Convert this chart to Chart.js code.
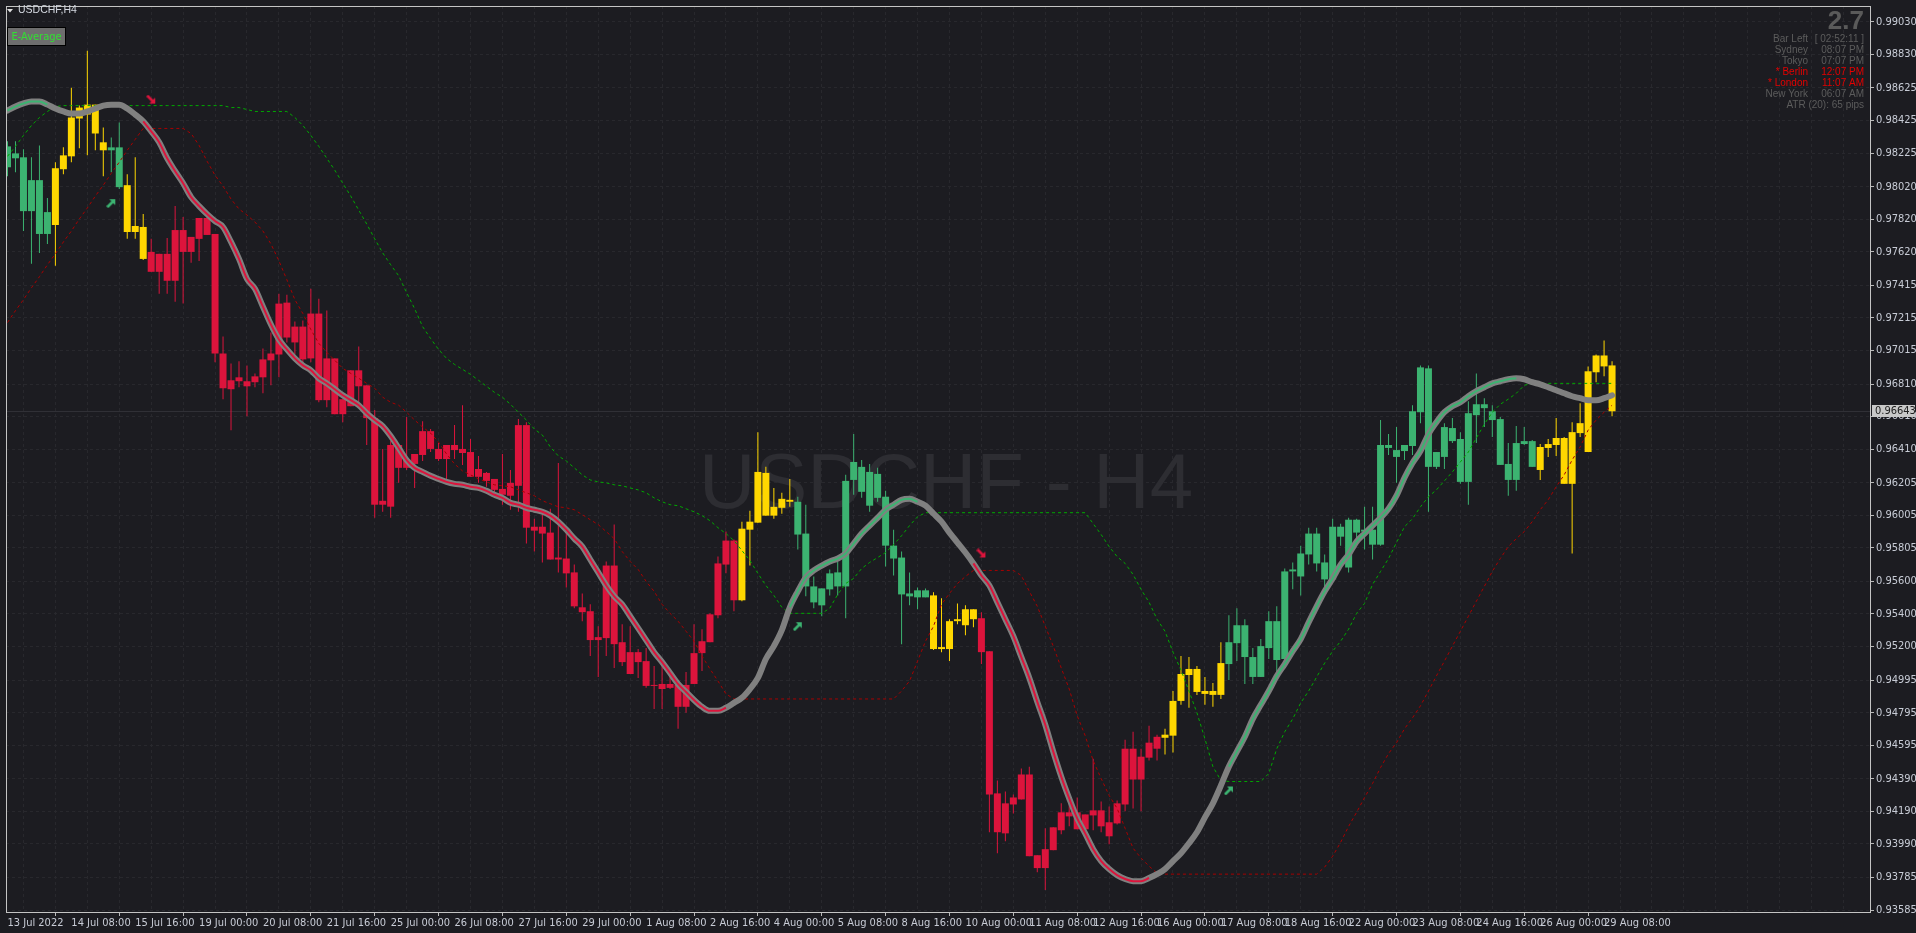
<!DOCTYPE html>
<html><head><meta charset="utf-8">
<script src="https://cdn.jsdelivr.net/npm/chart.js@4.4.0/dist/chart.umd.min.js"></script>
<style>
html,body{margin:0;padding:0;background:#1c1c21;overflow:hidden}
#wrap{position:relative;width:1916px;height:933px}
</style></head><body>
<div id="wrap"><canvas id="c"></canvas></div>
<script>
// ---------- DATA ----------
const symbolTitle = "USDCHF,H4";
const watermarkText = "USDCHF - H4";
const timeLabels = ["13 Jul 2022","14 Jul 08:00","15 Jul 16:00","19 Jul 00:00","20 Jul 08:00","21 Jul 16:00","25 Jul 00:00","26 Jul 08:00","27 Jul 16:00","29 Jul 00:00","1 Aug 08:00","2 Aug 16:00","4 Aug 00:00","5 Aug 08:00","8 Aug 16:00","10 Aug 00:00","11 Aug 08:00","12 Aug 16:00","16 Aug 00:00","17 Aug 08:00","18 Aug 16:00","22 Aug 00:00","23 Aug 08:00","24 Aug 16:00","26 Aug 00:00","29 Aug 08:00"];
const priceTicks = [0.99030,0.98830,0.98625,0.98425,0.98225,0.98020,0.97820,0.97620,0.97415,0.97215,0.97015,0.96810,0.96610,0.96410,0.96205,0.96005,0.95805,0.95600,0.95400,0.95200,0.94995,0.94795,0.94595,0.94390,0.94190,0.93990,0.93785,0.93585];

const opens = [0.98139,0.98224,0.98200,0.97870,0.98060,0.97730,0.97785,0.98127,0.98206,0.98438,
0.98523,0.98523,0.98292,0.98243,0.98261,0.98029,0.97742,0.97773,0.97620,0.97498,
0.97608,0.97443,0.97754,0.97620,0.97700,0.97828,0.97730,0.96997,0.96778,0.96827,
0.96827,0.96821,0.96851,0.96955,0.96991,0.97309,0.97065,0.97162,0.96967,0.97242,
0.96711,0.96967,0.96625,0.96674,0.96894,0.96802,0.96601,0.96070,0.96058,0.96436,
0.96296,0.96320,0.96375,0.96521,0.96412,0.96350,0.96436,0.96412,0.96393,0.96241,
0.96265,0.96228,0.96167,0.96125,0.96186,0.96558,0.95935,0.95893,0.95899,0.95734,
0.95740,0.95655,0.95441,0.95417,0.95240,0.95252,0.95697,0.95227,0.95166,0.95105,
0.95111,0.94959,0.94971,0.94947,0.94965,0.94831,0.94971,0.95160,0.95227,0.95392,
0.95703,0.95850,0.95484,0.95917,0.95960,0.96265,0.96003,0.96051,0.96100,0.96088,
0.95893,0.95569,0.95453,0.95551,0.95655,0.95569,0.96222,0.96302,0.96064,0.96259,
0.96119,0.95819,0.95746,0.95526,0.95502,0.95545,0.95514,0.95185,0.95185,0.95356,
0.95331,0.95429,0.95374,0.95172,0.94300,0.94055,0.94232,0.94263,0.94416,0.93921,
0.93842,0.93952,0.94074,0.94184,0.94184,0.94080,0.94165,0.94196,0.94123,0.94116,
0.94232,0.94574,0.94385,0.94519,0.94574,0.94641,0.94654,0.94867,0.95026,0.95063,
0.94928,0.94904,0.94904,0.95093,0.95221,0.95331,0.95136,0.95014,0.95191,0.95356,
0.95124,0.95661,0.95630,0.95765,0.95893,0.95716,0.95612,0.95935,0.95978,0.95899,
0.95917,0.95917,0.95825,0.96436,0.96405,0.96399,0.96430,0.96637,0.96906,0.96302,
0.96363,0.96540,0.96473,0.96210,0.96619,0.96686,0.96643,0.96595,0.96320,0.96222,
0.96442,0.96460,0.96283,0.96418,0.96436,0.96479,0.96198,0.96509,0.96393,0.96882,
0.96985,0.96924];

const highs = [0.98298,0.98298,0.98249,0.98200,0.98273,0.97950,0.98170,0.98261,0.98627,0.98517,
0.98853,0.98523,0.98383,0.98322,0.98414,0.98096,0.98200,0.97852,0.97700,0.97608,
0.97706,0.97901,0.97834,0.97712,0.97828,0.97840,0.97730,0.97101,0.96936,0.96949,
0.96924,0.96875,0.97028,0.97126,0.97364,0.97358,0.97193,0.97199,0.97394,0.97333,
0.97260,0.96967,0.96717,0.96894,0.97040,0.96802,0.96650,0.96412,0.96460,0.96436,
0.96607,0.96381,0.96582,0.96534,0.96448,0.96436,0.96558,0.96680,0.96473,0.96369,
0.96271,0.96228,0.96381,0.96283,0.96595,0.96576,0.95984,0.96027,0.96045,0.96326,
0.95905,0.95703,0.95526,0.95459,0.95325,0.95722,0.95948,0.95337,0.95325,0.95185,
0.95191,0.95081,0.95130,0.95044,0.94965,0.95044,0.95337,0.95307,0.95404,0.95752,
0.95905,0.95856,0.95966,0.96033,0.96515,0.96302,0.96173,0.96143,0.96228,0.96119,
0.96070,0.95630,0.95557,0.95673,0.95722,0.96253,0.96503,0.96344,0.96320,0.96296,
0.96155,0.95917,0.95783,0.95655,0.95563,0.95557,0.95533,0.95496,0.95368,0.95465,
0.95453,0.95429,0.95411,0.95172,0.94379,0.94312,0.94293,0.94452,0.94464,0.93921,
0.94086,0.94092,0.94239,0.94263,0.94275,0.94171,0.94513,0.94251,0.94220,0.94257,
0.94629,0.94678,0.94574,0.94715,0.94660,0.94696,0.94928,0.95142,0.95136,0.95081,
0.95014,0.94977,0.95227,0.95392,0.95435,0.95368,0.95191,0.95246,0.95417,0.95447,
0.95679,0.95716,0.95819,0.95929,0.95929,0.95765,0.95984,0.95954,0.95990,0.95984,
0.96057,0.96057,0.96589,0.96503,0.96546,0.96436,0.96680,0.96924,0.96924,0.96393,
0.96570,0.96601,0.96515,0.96705,0.96875,0.96723,0.96680,0.96607,0.96448,0.96552,
0.96546,0.96466,0.96442,0.96473,0.96601,0.96485,0.96576,0.96692,0.96918,0.96991,
0.97077,0.96949];

const lows = [0.98084,0.98108,0.97748,0.97547,0.97614,0.97669,0.97535,0.98096,0.98170,0.98255,
0.98212,0.98243,0.98084,0.98108,0.98005,0.97700,0.97700,0.97571,0.97498,0.97364,
0.97364,0.97315,0.97303,0.97553,0.97565,0.97724,0.96943,0.96717,0.96527,0.96790,
0.96613,0.96790,0.96753,0.96802,0.96851,0.97065,0.96991,0.96943,0.96943,0.96698,
0.96668,0.96625,0.96576,0.96674,0.96698,0.96436,0.95990,0.96027,0.95990,0.96204,
0.96283,0.96173,0.96338,0.96393,0.96338,0.96228,0.96350,0.96314,0.96241,0.96204,
0.96180,0.96131,0.96070,0.96039,0.96027,0.95832,0.95783,0.95716,0.95734,0.95655,
0.95563,0.95435,0.95356,0.95142,0.95014,0.95142,0.95069,0.95081,0.95032,0.95008,
0.94947,0.94818,0.94818,0.94940,0.94696,0.94794,0.94971,0.95050,0.95227,0.95374,
0.95649,0.95417,0.95478,0.95697,0.95960,0.96003,0.95984,0.96015,0.96057,0.95795,
0.95508,0.95435,0.95386,0.95514,0.95514,0.95374,0.96131,0.96112,0.96027,0.96088,
0.95691,0.95636,0.95215,0.95453,0.95429,0.95502,0.95179,0.95166,0.95111,0.95337,
0.95270,0.95319,0.95093,0.94062,0.93933,0.94007,0.94177,0.94263,0.93915,0.93817,
0.93707,0.93952,0.94049,0.94098,0.94080,0.94080,0.94074,0.94062,0.93988,0.94110,
0.94190,0.94208,0.94190,0.94501,0.94501,0.94538,0.94550,0.94843,0.94825,0.94904,
0.94843,0.94831,0.94879,0.94995,0.95111,0.94971,0.94971,0.95014,0.95124,0.95032,
0.95093,0.95551,0.95514,0.95703,0.95661,0.95551,0.95600,0.95819,0.95655,0.95819,
0.95795,0.95734,0.95819,0.96375,0.96204,0.96344,0.96375,0.96570,0.96027,0.96289,
0.96289,0.96448,0.96198,0.96070,0.96448,0.96546,0.96485,0.96314,0.96125,0.96155,
0.96436,0.96302,0.96222,0.96363,0.96369,0.96198,0.95771,0.96485,0.96393,0.96821,
0.96857,0.96613];

const closes = [0.98267,0.98194,0.97870,0.98060,0.97730,0.97864,0.98133,0.98212,0.98444,0.98505,
0.98462,0.98346,0.98243,0.98261,0.98017,0.97742,0.97779,0.97577,0.97498,0.97608,
0.97443,0.97754,0.97620,0.97712,0.97828,0.97724,0.96997,0.96784,0.96833,0.96851,
0.96796,0.96857,0.96961,0.96997,0.97303,0.97095,0.97162,0.96961,0.97242,0.96711,
0.96967,0.96625,0.96717,0.96894,0.96796,0.96601,0.96070,0.96094,0.96436,0.96296,
0.96350,0.96381,0.96521,0.96412,0.96350,0.96436,0.96405,0.96387,0.96241,0.96289,
0.96216,0.96161,0.96131,0.96204,0.96558,0.95929,0.95911,0.95935,0.95734,0.95746,
0.95649,0.95447,0.95411,0.95240,0.95258,0.95697,0.95215,0.95105,0.95032,0.95166,
0.94959,0.94965,0.94940,0.94971,0.94831,0.94965,0.95160,0.95233,0.95398,0.95710,
0.95850,0.95484,0.95923,0.95966,0.96271,0.96003,0.96057,0.96106,0.96088,0.95887,
0.95569,0.95471,0.95557,0.95649,0.95569,0.96216,0.96332,0.96149,0.96271,0.96112,
0.95819,0.95740,0.95520,0.95508,0.95545,0.95502,0.95185,0.95197,0.95356,0.95368,
0.95429,0.95368,0.95166,0.94293,0.94062,0.94239,0.94275,0.94416,0.93915,0.93842,
0.93958,0.94092,0.94184,0.94159,0.94080,0.94171,0.94196,0.94098,0.94037,0.94239,
0.94574,0.94385,0.94525,0.94611,0.94647,0.94660,0.94867,0.95032,0.95063,0.94922,
0.94910,0.94928,0.95099,0.95227,0.95331,0.95136,0.95014,0.95203,0.95356,0.95118,
0.95661,0.95673,0.95771,0.95893,0.95710,0.95612,0.95935,0.95874,0.95685,0.95978,
0.95905,0.95825,0.96436,0.96418,0.96363,0.96436,0.96643,0.96912,0.96302,0.96393,
0.96546,0.96460,0.96210,0.96631,0.96686,0.96662,0.96589,0.96314,0.96222,0.96448,
0.96460,0.96302,0.96424,0.96442,0.96479,0.96198,0.96515,0.96570,0.96888,0.96985,
0.96918,0.96643];

// candle trend colour per bar: G = up, Y = neutral, R = down
const candleTrend = ("GGGGGGYYYY YYYGGYYYRR RRRRRRRRRR RRRRRRRRRR RRRRRRRRRR RRRRRRRRRR RRRRRRRRRR " +
  "RRRRRRRRRR RRRRRRRRRR RRYYYYYYYG GGGGGGGGGG GGGGGGYYYY YYRRRRRRRR RRRRRRRRRR RRRRRYYYYY " +
  "YYYGGGGGGG GGGGGGGGGG GGGGGGGGGG GGGGGGGGGG GGYYYYYYYY YY").replace(/ /g, "").split("");

// smoothed average line
const maValues = [0.98487,0.98511,0.98530,0.98542,0.98542,0.98523,0.98499,0.98481,0.98469,0.98469,
0.98481,0.98499,0.98517,0.98523,0.98523,0.98499,0.98462,0.98420,0.98359,0.98292,
0.98194,0.98115,0.98041,0.97956,0.97901,0.97852,0.97809,0.97773,0.97681,0.97577,
0.97455,0.97394,0.97284,0.97175,0.97083,0.97022,0.96967,0.96924,0.96894,0.96845,
0.96814,0.96778,0.96741,0.96711,0.96680,0.96631,0.96589,0.96552,0.96491,0.96418,
0.96344,0.96296,0.96271,0.96247,0.96228,0.96210,0.96198,0.96192,0.96180,0.96173,
0.96155,0.96131,0.96112,0.96082,0.96070,0.96051,0.96039,0.96027,0.96003,0.95966,
0.95917,0.95862,0.95813,0.95734,0.95655,0.95575,0.95508,0.95459,0.95386,0.95313,
0.95240,0.95166,0.95105,0.95038,0.94971,0.94922,0.94873,0.94831,0.94806,0.94806,
0.94825,0.94855,0.94886,0.94940,0.95008,0.95124,0.95203,0.95301,0.95441,0.95539,
0.95624,0.95667,0.95697,0.95722,0.95740,0.95771,0.95832,0.95893,0.95942,0.95990,
0.96039,0.96070,0.96100,0.96106,0.96088,0.96064,0.96015,0.95966,0.95899,0.95838,
0.95777,0.95710,0.95636,0.95575,0.95472,0.95368,0.95264,0.95136,0.95008,0.94861,
0.94721,0.94556,0.94403,0.94269,0.94147,0.94055,0.93958,0.93885,0.93836,0.93799,
0.93775,0.93762,0.93762,0.93781,0.93805,0.93836,0.93885,0.93933,0.93994,0.94062,
0.94153,0.94239,0.94348,0.94464,0.94556,0.94647,0.94757,0.94843,0.94928,0.95020,
0.95093,0.95172,0.95246,0.95349,0.95447,0.95539,0.95618,0.95703,0.95765,0.95844,
0.95893,0.95942,0.95990,0.96045,0.96125,0.96235,0.96326,0.96399,0.96503,0.96576,
0.96637,0.96674,0.96698,0.96735,0.96766,0.96790,0.96814,0.96827,0.96839,0.96845,
0.96839,0.96821,0.96808,0.96790,0.96772,0.96753,0.96735,0.96723,0.96711,0.96711,
0.96723,0.96741];
// average slope state: g = rising, r = falling, n = flat/undecided
const maState = ("ggggggnnnn nnnnnnnrrr rrrrrrrrrr rrrrrrrrrr rrrrrrrrrr rrrrrrrrrr rrrrrrrrrr " +
  "rrrrrrrrrr rrrrrrrrrr rnnnnnnngg gggggggggg gggggnnnnn nrrrrrrrrr rrrrrrrrrr rrrrnnnnnn " +
  "nnnggggggg gggggggggg gggggggggg gggggggggg nnnnnnnnnn nn").replace(/ /g, "").split("");

// upper (green dotted) and lower (dark red dotted) trailing bands
const upperBand = [0.98206,0.98267,0.98334,0.98395,0.98444,0.98481,0.98511,0.98517,0.98517,0.98517,
0.98517,0.98517,0.98517,0.98517,0.98517,0.98517,0.98517,0.98517,0.98517,0.98517,
0.98517,0.98517,0.98517,0.98517,0.98517,0.98517,0.98517,0.98517,0.98505,0.98505,
0.98493,0.98481,0.98481,0.98481,0.98481,0.98481,0.98444,0.98395,0.98334,0.98267,
0.98194,0.98121,0.98041,0.97962,0.97876,0.97791,0.97700,0.97614,0.97541,0.97474,
0.97370,0.97272,0.97162,0.97089,0.97022,0.96967,0.96930,0.96900,0.96869,0.96833,
0.96796,0.96759,0.96729,0.96686,0.96637,0.96589,0.96534,0.96497,0.96424,0.96369,
0.96338,0.96296,0.96253,0.96222,0.96210,0.96204,0.96192,0.96186,0.96173,0.96161,
0.96143,0.96112,0.96088,0.96070,0.96064,0.96045,0.96027,0.96003,0.95972,0.95929,
0.95893,0.95850,0.95789,0.95728,0.95649,0.95575,0.95514,0.95441,0.95404,0.95404,
0.95404,0.95404,0.95404,0.95435,0.95520,0.95587,0.95618,0.95679,0.95716,0.95746,
0.95777,0.95825,0.95880,0.95942,0.95996,0.96021,0.96021,0.96021,0.96021,0.96021,
0.96021,0.96021,0.96021,0.96021,0.96021,0.96021,0.96021,0.96021,0.96021,0.96021,
0.96021,0.96021,0.96021,0.96021,0.96021,0.96021,0.95954,0.95887,0.95813,0.95752,
0.95710,0.95642,0.95551,0.95472,0.95368,0.95294,0.95166,0.95056,0.94928,0.94794,
0.94635,0.94464,0.94379,0.94373,0.94373,0.94373,0.94373,0.94373,0.94422,0.94574,
0.94678,0.94757,0.94855,0.94928,0.95014,0.95099,0.95172,0.95233,0.95307,0.95404,
0.95465,0.95581,0.95661,0.95740,0.95838,0.95935,0.95984,0.96057,0.96119,0.96161,
0.96216,0.96271,0.96332,0.96393,0.96479,0.96564,0.96637,0.96686,0.96717,0.96753,
0.96802,0.96814,0.96814,0.96814,0.96814,0.96814,0.96814,0.96814,0.96814,0.96814,
0.96814,0.96814];
const lowerBand = [0.97187,0.97260,0.97327,0.97400,0.97468,0.97541,0.97608,0.97681,0.97748,0.97822,
0.97889,0.97962,0.98029,0.98102,0.98170,0.98243,0.98310,0.98377,0.98377,0.98377,
0.98377,0.98377,0.98377,0.98346,0.98273,0.98176,0.98090,0.98023,0.97944,0.97883,
0.97846,0.97803,0.97748,0.97669,0.97565,0.97449,0.97327,0.97242,0.97144,0.97059,
0.97004,0.96955,0.96906,0.96875,0.96845,0.96814,0.96784,0.96729,0.96698,0.96680,
0.96637,0.96589,0.96546,0.96509,0.96454,0.96381,0.96320,0.96277,0.96253,0.96228,
0.96210,0.96192,0.96186,0.96180,0.96161,0.96143,0.96125,0.96094,0.96076,0.96057,
0.96051,0.96039,0.96009,0.95978,0.95948,0.95905,0.95862,0.95783,0.95722,0.95673,
0.95600,0.95539,0.95459,0.95404,0.95356,0.95294,0.95233,0.95142,0.95063,0.94989,
0.94910,0.94879,0.94879,0.94879,0.94879,0.94879,0.94879,0.94879,0.94879,0.94879,
0.94879,0.94879,0.94879,0.94879,0.94879,0.94879,0.94879,0.94879,0.94879,0.94879,
0.94879,0.94879,0.94928,0.94989,0.95111,0.95233,0.95325,0.95459,0.95526,0.95587,
0.95630,0.95667,0.95667,0.95667,0.95667,0.95667,0.95667,0.95636,0.95539,0.95447,
0.95325,0.95203,0.95069,0.94940,0.94776,0.94654,0.94501,0.94391,0.94287,0.94208,
0.94086,0.93964,0.93903,0.93854,0.93811,0.93805,0.93805,0.93805,0.93805,0.93805,
0.93805,0.93805,0.93805,0.93805,0.93805,0.93805,0.93805,0.93805,0.93805,0.93805,
0.93805,0.93805,0.93805,0.93805,0.93805,0.93848,0.93915,0.94000,0.94098,0.94184,
0.94275,0.94361,0.94458,0.94544,0.94611,0.94696,0.94763,0.94837,0.94928,0.95020,
0.95111,0.95203,0.95294,0.95386,0.95478,0.95569,0.95661,0.95740,0.95813,0.95862,
0.95905,0.95966,0.96039,0.96100,0.96180,0.96253,0.96344,0.96424,0.96527,0.96589,
0.96637,0.96680];

// signal arrows (bar index, price)
const upArrowBars = [13, 99, 153];
const upArrowPrices = [0.97919, 0.95325, 0.94318];
const downArrowBars = [18, 122];
const downArrowPrices = [0.98554, 0.95771];

// info panel
const bigValue = "2.7";
const panelRows = [
  ["Bar Left", "[ 02:52:11 ]", false],
  ["Sydney", "08:07 PM", false],
  ["Tokyo", "07:07 PM", false],
  ["* Berlin", "12:07 PM", true],
  ["* London", "11:07 AM", true],
  ["New York", "06:07 AM", false]
];
const atrText = "ATR (20): 65 pips";

// ---------- CHART ----------
const BG = '#1c1c21';
const AXIS_FONT = "'Liberation Sans Narrow','Arial Narrow','DejaVu Sans Condensed',sans-serif";
const UI_FONT = "'Liberation Sans',Arial,sans-serif";
const colorMap = {G: '#3cb371', Y: '#ffd700', R: '#dc143c'};

const idx = opens.map((_, i) => i);
const barColors = candleTrend.map(c => colorMap[c]);
const lastClose = closes[closes.length - 1];

function arrowImg(color, up) {
  const c = document.createElement('canvas');
  c.width = 10; c.height = 10;
  const g = c.getContext('2d');
  g.fillStyle = color; g.strokeStyle = color; g.lineWidth = 2.6; g.lineCap = 'butt';
  if (up) {
    g.beginPath(); g.moveTo(1, 9); g.lineTo(6.5, 3.5); g.stroke();
    g.beginPath(); g.moveTo(3, 1); g.lineTo(9, 1); g.lineTo(9, 7); g.closePath(); g.fill();
  } else {
    g.beginPath(); g.moveTo(1, 1); g.lineTo(6.5, 6.5); g.stroke();
    g.beginPath(); g.moveTo(9, 3); g.lineTo(9, 9); g.lineTo(3, 9); g.closePath(); g.fill();
  }
  return c;
}

const gridX = [];
for (let v = 0; v <= 232; v += 4) gridX.push(v);
const isLabelTick = v => v % 8 === 0 && v / 8 < timeLabels.length;

const deco = {
  id: 'deco',
  beforeDraw(chart) {
    const {ctx, width, height} = chart;
    ctx.save(); ctx.fillStyle = BG; ctx.fillRect(0, 0, width, height); ctx.restore();
  },
  beforeDatasetsDraw(chart) {
    const {ctx, chartArea: a, scales} = chart;
    ctx.save();
    ctx.beginPath(); ctx.rect(a.left, a.top, a.right - a.left, a.bottom - a.top); ctx.clip();
    ctx.font = "78px " + UI_FONT;
    ctx.fillStyle = '#2d2d32';
    ctx.textAlign = 'center'; ctx.textBaseline = 'alphabetic';
    ctx.fillText(watermarkText, 946, 508);
    const by = Math.round(scales.y.getPixelForValue(lastClose)) + 0.5;
    ctx.strokeStyle = '#303036'; ctx.lineWidth = 1;
    ctx.beginPath(); ctx.moveTo(a.left, by); ctx.lineTo(a.right, by); ctx.stroke();
    ctx.restore();
  },
  afterDraw(chart) {
    const {ctx, chartArea: a, scales} = chart;
    ctx.save();
    // frame
    ctx.strokeStyle = '#c4c4c4'; ctx.lineWidth = 1;
    ctx.strokeRect(a.left + 0.5, a.top + 0.5, a.right - a.left, a.bottom - a.top);
    // current price box
    const py = Math.round(scales.y.getPixelForValue(lastClose));
    ctx.fillStyle = '#c8c8c8';
    ctx.fillRect(a.right + 2, py - 6, 43, 12);
    ctx.fillStyle = '#202020';
    ctx.font = "11px " + AXIS_FONT;
    ctx.textAlign = 'left'; ctx.textBaseline = 'middle';
    ctx.fillText(lastClose.toFixed(5), a.right + 5, py + 0.5);
    // title
    ctx.fillStyle = '#e0e0e0';
    ctx.beginPath(); ctx.moveTo(7, 9); ctx.lineTo(13, 9); ctx.lineTo(10, 12.5); ctx.closePath(); ctx.fill();
    ctx.fillStyle = '#d4d8e0';
    ctx.font = "10.5px " + UI_FONT;
    ctx.textAlign = 'left'; ctx.textBaseline = 'middle';
    ctx.fillText(symbolTitle, 18, 10.5);
    // button
    ctx.fillStyle = '#6e6e6e'; ctx.fillRect(7, 27, 59, 19);
    ctx.strokeStyle = '#000000'; ctx.strokeRect(7.5, 27.5, 58, 18);
    ctx.fillStyle = '#32e032';
    ctx.font = "11px " + AXIS_FONT;
    ctx.textAlign = 'center';
    ctx.fillText('E-Average', 36.5, 37);
    // info panel
    ctx.fillStyle = '#5a5a5a';
    ctx.font = "bold 26px " + UI_FONT;
    ctx.textAlign = 'right'; ctx.textBaseline = 'alphabetic';
    ctx.fillText(bigValue, 1864, 29);
    ctx.font = "10px " + UI_FONT;
    ctx.textBaseline = 'middle';
    panelRows.forEach((r, i) => {
      const yy = 39 + i * 11;
      ctx.fillStyle = r[2] ? '#e40000' : '#5c5c5c';
      ctx.fillText(r[0], 1808, yy);
      ctx.fillText(r[1], 1864, yy);
    });
    ctx.fillStyle = '#5c5c5c';
    ctx.fillText(atrText, 1864, 105);
    ctx.restore();
  }
};

const ctxEl = document.getElementById('c');
new Chart(ctxEl, {
  type: 'bar',
  data: {
    datasets: [
      { type: 'line', label: 'up', data: upArrowBars.map((b, i) => ({x: b, y: upArrowPrices[i]})),
        showLine: false, pointStyle: arrowImg('#3cb371', true), pointRadius: 5, order: 0 },
      { type: 'line', label: 'down', data: downArrowBars.map((b, i) => ({x: b, y: downArrowPrices[i]})),
        showLine: false, pointStyle: arrowImg('#dc143c', false), pointRadius: 5, order: 0 },
      { type: 'line', label: 'maRed', data: idx.map(i => ({x: i, y: maState[i] === 'r' ? maValues[i] : null})),
        borderColor: '#dc143c', borderWidth: 2, pointRadius: 0, spanGaps: false,
        cubicInterpolationMode: 'monotone', order: 1 },
      { type: 'line', label: 'maGreen', data: idx.map(i => ({x: i, y: maState[i] === 'g' ? maValues[i] : null})),
        borderColor: '#3cb371', borderWidth: 2, pointRadius: 0, spanGaps: false,
        cubicInterpolationMode: 'monotone', order: 1 },
      { type: 'line', label: 'ma', data: idx.map(i => ({x: i, y: maValues[i]})),
        borderColor: '#808080', borderWidth: 6, pointRadius: 0, borderJoinStyle: 'round', borderCapStyle: 'round',
        cubicInterpolationMode: 'monotone', order: 2 },
      { type: 'line', label: 'upper', data: idx.map(i => ({x: i, y: upperBand[i]})),
        borderColor: '#00a800', borderWidth: 1, borderDash: [3, 3], pointRadius: 0, tension: 0, order: 3 },
      { type: 'line', label: 'lower', data: idx.map(i => ({x: i, y: lowerBand[i]})),
        borderColor: '#a80000', borderWidth: 1, borderDash: [3, 3], pointRadius: 0, tension: 0, order: 3 },
      { type: 'bar', label: 'body', data: idx.map(i => ({x: i, y: [opens[i], closes[i]]})),
        backgroundColor: barColors, borderWidth: 0, barThickness: 7, grouped: false, inflateAmount: 0,
        minBarLength: 1, order: 4 },
      { type: 'bar', label: 'wick', data: idx.map(i => ({x: i, y: [lows[i], highs[i]]})),
        backgroundColor: barColors, borderWidth: 0, barThickness: 1, grouped: false, inflateAmount: 0,
        order: 5 }
    ]
  },
  options: {
    responsive: true, maintainAspectRatio: false, animation: false, devicePixelRatio: 1,
    layout: { padding: { left: 2, top: 2, right: 0, bottom: 0 } },
    plugins: { legend: { display: false }, tooltip: { enabled: false } },
    events: [],
    scales: {
      x: {
        type: 'linear', min: -0.1875, max: 233.3125, offset: false,
        afterBuildTicks: s => { s.ticks = gridX.map(v => ({value: v})); },
        afterFit: s => { s.height = 21; s.paddingLeft = 0; s.paddingRight = 0; },
        ticks: {
          align: 'start', maxRotation: 0, minRotation: 0, autoSkip: false, padding: 1,
          color: '#c8ccd6', font: { family: AXIS_FONT, size: 11 },
          callback: v => isLabelTick(v) ? timeLabels[v / 8] : ''
        },
        grid: {
          color: '#28282d', lineWidth: 1, tickLength: 4, drawTicks: true,
          tickColor: c => (c.tick && isLabelTick(c.tick.value)) ? '#b8b8b8' : 'rgba(0,0,0,0)'
        },
        border: { display: false, dash: [3, 3] }
      },
      y: {
        type: 'linear', position: 'right', min: 0.935728, max: 0.991277,
        afterBuildTicks: s => { s.ticks = priceTicks.map(v => ({value: v})); },
        afterFit: s => { s.width = 46; s.paddingTop = 0; s.paddingBottom = 0; },
        ticks: {
          autoSkip: false, padding: 2, color: '#c8ccd6', font: { family: AXIS_FONT, size: 11 },
          callback: v => v.toFixed(5)
        },
        grid: { color: '#28282d', lineWidth: 1, tickLength: 4, tickColor: '#b8b8b8' },
        border: { display: false, dash: [3, 3] }
      }
    }
  },
  plugins: [deco]
});
</script>
</body></html>
